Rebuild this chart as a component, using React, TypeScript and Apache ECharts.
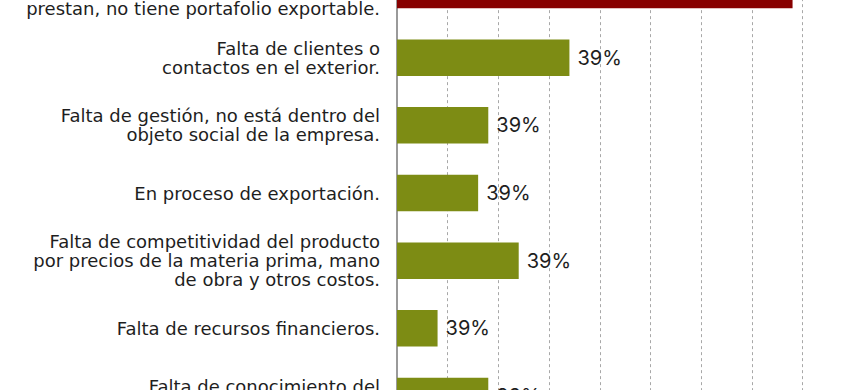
import React, { useEffect, useRef } from "react";
import * as echarts from "echarts";

const categories = [
  "Por el tipo de productos o\nservicios que las empresas\nprestan, no tiene portafolio exportable.",
  "Falta de clientes o\ncontactos en el exterior.",
  "Falta de gestión, no está dentro del\nobjeto social de la empresa.",
  "En proceso de exportación.",
  "Falta de competitividad del producto\npor precios de la materia prima, mano\nde obra y otros costos.",
  "Falta de recursos financieros.",
  "Falta de conocimiento del\nproceso de exportación.",
];
const values = [39, 17, 9, 8, 12, 4, 9];
const valueLabels = ["39%", "39%", "39%", "39%", "39%", "39%", "39%"];
const barColors = ["#870000", "#7d8c14", "#7d8c14", "#7d8c14", "#7d8c14", "#7d8c14", "#7d8c14"];

export default function App() {
  const ref = useRef<HTMLDivElement>(null);
  useEffect(() => {
    if (!ref.current) return;
    const chart = echarts.init(ref.current, null, { renderer: "svg" });
    chart.setOption({
      animation: false,
      backgroundColor: "#ffffff",
      grid: {
        left: 397,
        right: 57.3,
        top: -43.85,
        bottom: -39.85,
        containLabel: false,
        outerBoundsMode: "none",
      },
      xAxis: {
        type: "value",
        min: 0,
        max: 40,
        interval: 5,
        axisLabel: { show: false },
        axisLine: { show: false },
        axisTick: { show: false },
        splitLine: { show: true, lineStyle: { color: "#a8a8a8", type: [3, 3], width: 1 } },
      },
      yAxis: {
        type: "category",
        inverse: true,
        data: categories,
        axisLine: { show: true, lineStyle: { color: "#9a9a9a", width: 2 } },
        axisTick: { show: false },
        axisLabel: {
          margin: 17,
          color: "#1e1e1e",
          fontFamily: "DejaVu Sans",
          fontSize: 18,
          lineHeight: 19,
          align: "right",
        },
      },
      series: [
        {
          type: "bar",
          data: values.map((v, i) => ({ value: v, itemStyle: { color: barColors[i] } })),
          barWidth: 36.5,
          label: {
            show: true,
            position: "right",
            distance: 8,
            color: "#1e1e1e",
            fontFamily: "Inter",
            fontSize: 20,
            formatter: (p: any) => valueLabels[p.dataIndex],
          },
        },
      ],
    });
    return () => chart.dispose();
  }, []);
  return <div ref={ref} style={{ position: "fixed", left: 0, top: 0, width: 860, height: 390 }} />;
}
